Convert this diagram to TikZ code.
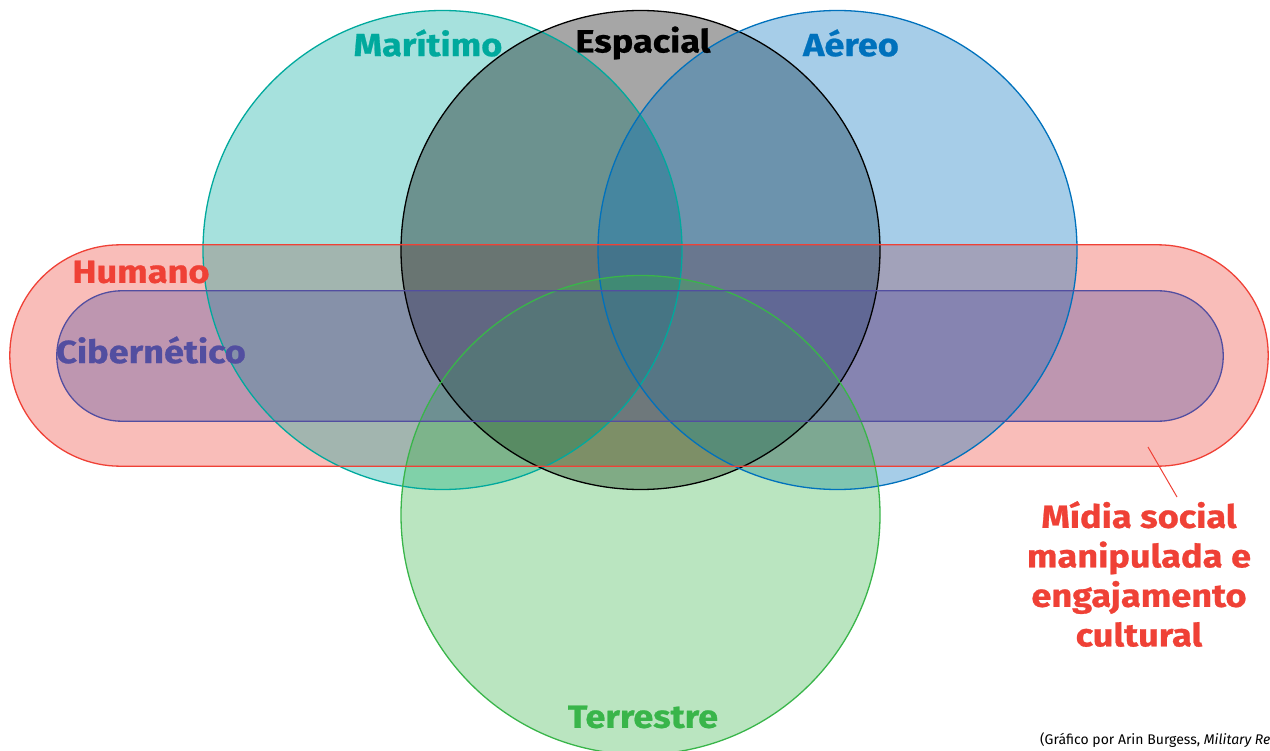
\documentclass[tikz,border=0pt]{standalone}
\usepackage{fontspec}
\setmainfont{Fira Sans}
\newfontfamily\domainfont{Fira Sans}[FakeStretch=1.13,FakeBold=0.8]
\usetikzlibrary{positioning}
\definecolor{maritimo}{HTML}{00A99D}
\definecolor{espacial}{HTML}{000000}
\definecolor{aereo}{HTML}{0071BC}
\definecolor{terrestre}{HTML}{39B54A}
\definecolor{humano}{HTML}{EF4136}
\definecolor{ciber}{HTML}{524EA0}

\begin{document}
\begin{tikzpicture}[x=1pt,y=-1pt,
    domain_circle/.style={circle,fill=#1,fill opacity=0.35,minimum size=479pt,inner sep=0pt},
    domain_band/.style={rectangle,fill=#1,fill opacity=0.35,inner sep=0pt},
    domain_edge/.style={draw=#1,line width=1.3pt},
    domain_label/.style={text=#1,font=\domainfont\fontsize{32}{39.5}\selectfont\bfseries}]
    \useasboundingbox (0,0) rectangle (1270,751);
    % fills
	\node[domain_band=humano,minimum width=1258pt,minimum height=221pt,rounded corners=110.5pt] (humano) at (639,355.5) {};
	\node[domain_circle=maritimo] (maritimo) at (442.5,250) {};
	\node[domain_circle=espacial] (espacial) at (640.5,250) {};
	\node[domain_circle=aereo] (aereo) at (837.5,250) {};
	\node[domain_circle=terrestre] (terrestre) at (640.5,515) {};
	\node[domain_band=ciber,minimum width=1166pt,minimum height=130pt,rounded corners=65pt] (ciber) at (640,356) {};
    % outlines on top
    \foreach \d in {maritimo,espacial,aereo,terrestre}
        \draw[domain_edge=\d] (\d.center) circle[radius=239.5pt];
    \draw[domain_edge=humano,rounded corners=110.5pt] (humano.north west) rectangle (humano.south east);
    \draw[domain_edge=ciber,rounded corners=65pt] (ciber.north west) rectangle (ciber.south east);
    % labels
	\node[domain_label=maritimo] (l_maritimo) at (428,43) {Marítimo};
	\node[domain_label=espacial] (l_espacial) at (643,43) {Espacial};
	\node[domain_label=aereo] (l_aereo) at (851,43) {Aéreo};
	\node[domain_label=humano] (l_humano) at (141,272) {Humano};
	\node[domain_label=ciber] (l_ciber) at (151,350) {Cibernético};
	\node[domain_label=terrestre] (l_terrestre) at (643,717) {Terrestre};
	\node[domain_label=humano,align=center] (l_midia) at (1139,574) {Mídia social\\manipulada e\\engajamento\\cultural};
	\coordinate (pin) at (1148,447);
	\coordinate (pin_end) at (1177,497);
    \draw[humano,line width=1pt] (pin) -- (pin_end);
	\node[anchor=west,font=\fontsize{14}{15}\selectfont,inner sep=0pt] (credito) at (1040,740) {(Gráfico por Arin Burgess, \textit{Military Re}};
\end{tikzpicture}
\end{document}
